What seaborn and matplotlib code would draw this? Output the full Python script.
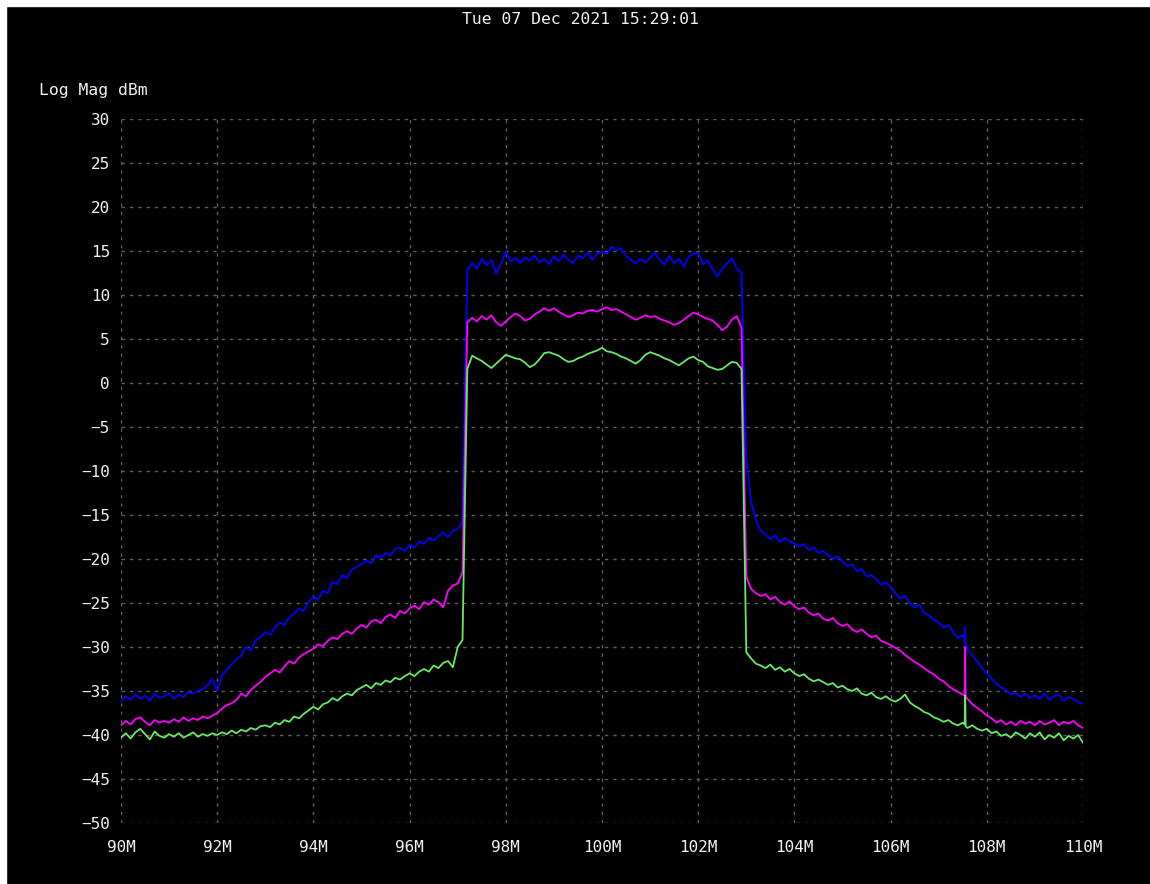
import numpy as np
import pandas as pd
import matplotlib
matplotlib.use("Agg")
import matplotlib.pyplot as plt
import seaborn as sns
from matplotlib.patches import Rectangle
from matplotlib.ticker import FuncFormatter, MultipleLocator

# Sweep frequencies in MHz (0.1 MHz steps, extra points around the spur at 107.55)
freq_mhz = np.round(np.r_[np.arange(900, 1076) / 10, 107.54, 107.55, 107.56,
                          np.arange(1076, 1101) / 10], 2)

# Trace 1 (blue), dBm
trace_blue = [
    -36.2, -35.6, -36.0, -35.4, -35.9, -35.5, -36.1, -35.3, -35.8, -35.6,
    -35.2, -35.9, -35.4, -35.7, -35.1, -35.3, -35.0, -34.8, -34.4, -33.6,
    -35.0, -33.2, -32.6, -32.0, -31.4, -31.0, -30.0, -30.4, -29.2, -28.9,
    -28.3, -28.6, -27.8, -27.2, -27.5, -26.6, -26.2, -25.6, -25.9, -24.9,
    -24.3, -24.6, -23.6, -23.9, -22.6, -22.9, -21.8, -22.2, -21.2, -20.9,
    -20.6, -20.2, -20.5, -19.6, -19.9, -19.3, -19.6, -18.9, -18.7, -19.1,
    -18.4, -18.7, -18.0, -18.3, -17.6, -17.9, -17.4, -17.0, -17.5, -16.8,
    -16.6, -15.8, 12.8, 13.6, 13.0, 14.1, 13.4, 14.0, 12.4, 13.6,
    14.9, 13.8, 14.2, 13.6, 14.3, 13.9, 14.5, 13.7, 14.1, 13.5,
    14.4, 13.8, 14.6, 14.0, 13.6, 14.5, 14.2, 14.8, 14.0, 14.7,
    15.0, 14.6, 15.5, 15.1, 15.3, 14.4, 14.0, 13.6, 14.1, 13.7,
    14.2, 14.8, 14.0, 13.4, 14.5, 13.6, 14.1, 13.2, 14.3, 14.7,
    14.8, 13.5, 13.9, 12.9, 12.1, 13.0, 13.6, 14.2, 13.0, 12.5,
    -8.5, -13.5, -15.6, -16.8, -17.2, -17.8, -17.3, -18.1, -17.6, -18.0,
    -18.2, -18.6, -18.3, -19.0, -18.7, -19.3, -19.1, -19.6, -20.0, -19.7,
    -20.3, -20.8, -20.6, -21.4, -21.1, -22.0, -21.8, -22.3, -22.9, -22.6,
    -23.2, -23.9, -24.5, -24.2, -25.0, -25.5, -25.2, -26.1, -26.4, -26.9,
    -27.2, -27.8, -27.5, -28.3, -29.0, -28.6,
    -29.3, -27.8, -29.6,
    -30.3, -31.0, -31.6, -32.4,
    -33.0, -33.6, -34.2, -34.6, -34.9, -35.4, -35.2, -35.7, -35.3, -35.8,
    -35.5, -35.9, -35.3, -36.0, -35.6, -35.4, -36.1, -35.7, -35.9, -36.3,
    -36.4,
]

# Trace 2 (magenta), dBm
trace_magenta = [
    -38.9, -38.4, -38.8, -38.2, -38.0, -38.5, -38.9, -38.3, -38.6, -38.4,
    -38.6, -38.2, -38.5, -38.0, -38.4, -38.1, -38.3, -37.9, -38.1, -37.8,
    -37.5, -37.0, -36.6, -36.4, -36.0, -35.3, -35.6, -34.9, -34.4, -34.0,
    -33.4, -33.0, -32.6, -32.9, -32.2, -31.6, -31.9, -31.2, -30.8, -30.5,
    -30.2, -29.7, -29.9, -29.3, -28.9, -29.1, -28.5, -28.2, -28.5, -27.9,
    -27.5, -27.8, -27.1, -26.9, -27.3, -26.6, -26.3, -26.7, -25.9, -26.2,
    -25.6, -25.3, -25.7, -24.9, -25.2, -24.6, -24.9, -25.5, -23.6, -23.0,
    -22.8, -21.5, 6.9, 7.4, 7.0, 7.6, 7.2, 7.7, 6.9, 6.5,
    7.0, 7.5, 7.9, 7.6, 7.1, 7.3, 7.8, 8.1, 8.5, 8.2,
    8.5, 8.1, 7.8, 7.5, 7.7, 8.0, 7.9, 8.2, 8.3, 8.1,
    8.4, 8.6, 8.3, 8.4, 8.1, 7.8, 7.5, 7.2, 7.4, 7.7,
    7.5, 7.6, 7.3, 7.1, 6.9, 6.6, 6.8, 7.2, 7.6, 8.0,
    7.8, 7.5, 7.3, 7.1, 6.6, 6.0, 6.4, 7.2, 7.6, 6.3,
    -22.0, -23.4, -23.9, -24.2, -24.0, -24.6, -24.3, -24.9, -25.2, -24.8,
    -25.4, -25.7, -25.5, -26.1, -26.4, -26.2, -26.8, -27.0, -26.7, -27.3,
    -27.6, -27.4, -28.0, -28.3, -28.0, -28.5, -28.9, -28.7, -29.3, -29.5,
    -29.8, -30.1, -30.4, -30.9, -31.3, -31.7, -32.0, -32.4, -32.8, -33.1,
    -33.6, -33.9, -34.4, -34.8, -35.1, -35.4,
    -35.5, -30.0, -35.7,
    -35.9, -36.5, -36.9, -37.3,
    -37.8, -38.1, -38.6, -38.3, -38.8, -38.5, -38.9, -38.4, -38.7, -38.5,
    -38.9, -38.4, -38.8, -38.6, -38.3, -38.9, -38.5, -38.7, -38.4, -38.9,
    -39.2,
]

# Trace 3 (green), dBm
trace_green = [
    -40.3, -39.8, -40.4, -39.7, -39.3, -39.9, -40.5, -39.6, -40.1, -40.3,
    -39.9, -40.2, -39.8, -40.3, -40.0, -39.7, -40.2, -39.9, -40.1, -39.8,
    -40.0, -39.7, -39.9, -39.5, -39.8, -39.4, -39.6, -39.2, -39.4, -39.0,
    -38.9, -39.1, -38.6, -38.8, -38.3, -38.5, -37.9, -38.1, -37.6, -37.2,
    -36.8, -37.1, -36.5, -36.3, -35.8, -36.1, -35.6, -35.3, -35.5, -34.9,
    -34.6, -34.3, -34.7, -34.1, -34.3, -33.8, -34.0, -33.5, -33.7, -33.3,
    -33.0, -33.3, -32.8, -32.5, -32.8, -32.1, -32.4, -31.8, -31.6, -32.3,
    -30.0, -29.2, 1.6, 3.1, 2.8, 2.5, 2.1, 1.7, 2.2, 2.7,
    3.2, 3.0, 2.8, 2.7, 2.3, 1.8, 2.1, 2.7, 3.4, 3.5,
    3.3, 3.1, 2.7, 2.4, 2.5, 2.8, 3.0, 3.3, 3.5, 3.7,
    4.0, 3.6, 3.5, 3.3, 3.0, 2.8, 2.5, 2.2, 2.6, 3.2,
    3.5, 3.3, 3.1, 2.8, 2.6, 2.3, 2.0, 2.4, 2.8, 3.0,
    2.6, 2.4, 1.9, 1.7, 1.5, 1.6, 2.0, 2.4, 2.3, 1.6,
    -30.6, -31.3, -31.9, -32.1, -32.4, -32.0, -32.6, -32.3, -32.8, -32.5,
    -33.0, -33.3, -33.1, -33.6, -33.9, -33.7, -34.0, -34.3, -34.1, -34.6,
    -34.4, -34.8, -35.0, -34.7, -35.3, -35.5, -35.2, -35.7, -35.9, -35.6,
    -36.0, -36.2, -35.9, -35.4, -36.3, -36.7, -37.0, -37.4, -37.6, -38.0,
    -38.2, -38.5, -38.3, -38.7, -38.9, -38.6,
    -38.8, -35.5, -39.0,
    -39.2, -38.9, -39.3, -39.5,
    -39.3, -39.8, -39.6, -40.1, -39.9, -40.3, -39.7, -40.0, -40.4, -39.8,
    -40.2, -39.7, -40.5, -40.0, -40.3, -39.8, -40.6, -40.1, -40.4, -40.0,
    -40.9,
]

trace_names = ["Trace 1", "Trace 2", "Trace 3"]
trace_colors = ["#0000ff", "#ff00ff", "#6ae86a"]

y_ticks = list(range(-50, 31, 5))
x_ticks = list(range(90, 111, 2))
timestamp = "Tue 07 Dec 2021 15:29:01"
y_label = "Log Mag dBm"

df = pd.concat([
    pd.DataFrame({"freq": freq_mhz, "dBm": vals, "trace": name})
    for name, vals in zip(trace_names, [trace_blue, trace_magenta, trace_green])
], ignore_index=True)

sns.set_style("dark", rc={"axes.facecolor": "black", "figure.facecolor": "black"})
plt.rcParams["font.family"] = ["DejaVu Sans Mono", "DejaVu Sans"]
text_color = "#f2f2f2"

fig = plt.figure(figsize=(11.5, 8.84), dpi=100)
# white strips at top and left, like the screenshot frame
fig.patches.append(Rectangle((0, 1 - 6 / 884), 1, 6 / 884, transform=fig.transFigure,
                             color="white", zorder=-1))
fig.patches.append(Rectangle((0, 0), 6 / 1150, 1, transform=fig.transFigure,
                             color="white", zorder=-1))

ax = fig.add_axes([121 / 1150, 61 / 884, 962 / 1150, 704 / 884])
sns.lineplot(data=df, x="freq", y="dBm", hue="trace", palette=trace_colors,
             estimator=None, sort=False, linewidth=1.3, legend=False, ax=ax)

ax.set_xlim(90, 110)
ax.set_ylim(-50, 30)
ax.set_xticks(x_ticks)
ax.set_yticks(y_ticks)
ax.xaxis.set_major_formatter(FuncFormatter(lambda v, p: f"{v:.0f}M"))
ax.grid(True, color="#5c5c5c", linestyle=(0, (2.5, 3.5)), linewidth=1)
ax.set_axisbelow(True)
for s in ax.spines.values():
    s.set_visible(False)
ax.tick_params(axis="both", length=0, labelsize=11.5, colors=text_color)
ax.tick_params(axis="x", pad=12)
ax.tick_params(axis="y", pad=8)
ax.set_xlabel("")
ax.set_ylabel("")

fig.text(0.505, 1 - 20 / 884, timestamp, ha="center", va="center",
         color=text_color, fontsize=11.8)
fig.text(39 / 1150, 1 - 90 / 884, y_label, ha="left", va="center",
         color=text_color, fontsize=11.8)

fig.savefig("out.png", dpi=100, facecolor=fig.get_facecolor())
plt.close(fig)
